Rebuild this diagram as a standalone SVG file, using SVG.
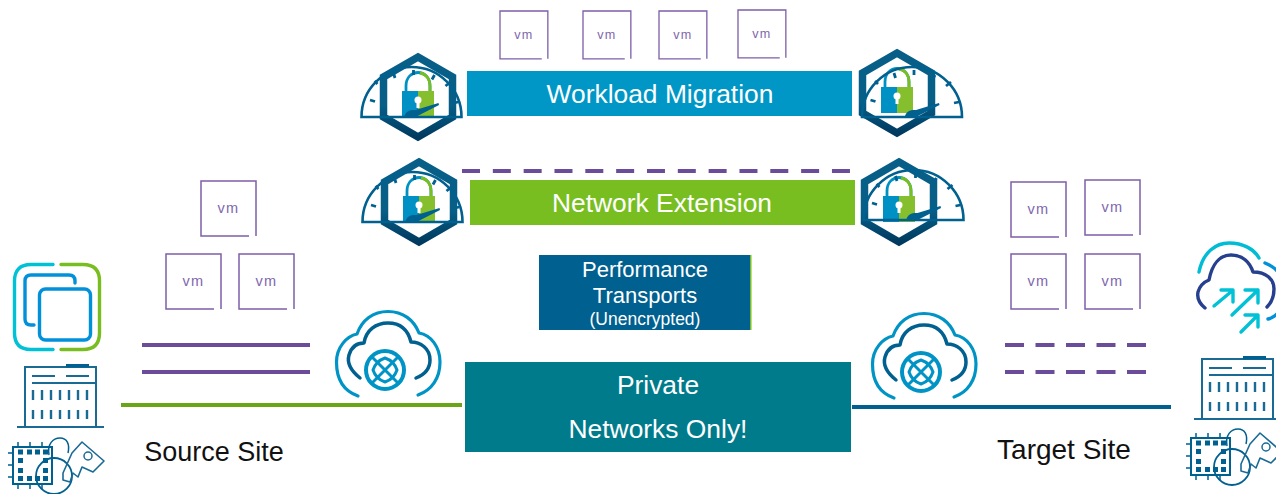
<svg xmlns="http://www.w3.org/2000/svg" width="1276" height="494" viewBox="0 0 1276 494">
<style>
text{font-family:"Liberation Sans",Arial,sans-serif}
.w{fill:#fff;text-anchor:middle}
.site{fill:#111;font-size:27px;text-anchor:middle}
.vmb{fill:none;stroke:#7d5fa8;stroke-width:1.5}
.vmt{fill:#8067ad;font-size:14.500px;text-anchor:middle;letter-spacing:1.400px}
.pl{stroke:#6b4c9a;stroke-width:4;fill:none}
.bl{fill:none;stroke:#1a6a96;stroke-width:2}
.tk{fill:none;stroke:#1a6a96;stroke-width:2.400}
.g{fill:none;stroke:#00608f;stroke-width:2.600}
.ic{fill:none;stroke-linecap:round;stroke-linejoin:round}
</style>
<defs>
<linearGradient id="hx" x1="0" y1="0" x2="0" y2="1"><stop offset="0" stop-color="#075f88"/><stop offset=".6" stop-color="#075f88"/><stop offset="1" stop-color="#003a60"/></linearGradient>
<g id="vm"><path class="vmb" d="M48,55H0V0H55V55"/><text class="vmt" x="27.500" y="32">vm</text></g>
<g id="lockhex">
<path d="M0,-40 L34.500,-20 V20 L0,40 L-34.500,20 V-20Z" fill="#fff" stroke="url(#hx)" stroke-width="7.500"/>
<path d="M-12,-6 V-11 C-12,-29 12,-29 12,-11 V-6" fill="none" stroke="#0091c4" stroke-width="2.800"/>
<path d="M2,-24 C8,-23 12,-18 12,-11 V-6" fill="none" stroke="#78be20" stroke-width="2.800"/>
<rect x="-16" y="-6" width="16" height="26" fill="#0091c4"/>
<rect x="0" y="-6" width="16" height="26" fill="#86bf2e"/>
<circle cx="0" cy="3" r="3.500" fill="#fff"/><path d="M-1.500,4H1.500V11H-1.500Z" fill="#fff"/>
</g>
<g id="gauge">
<path class="g" d="M-50,0 A50,50 0 0 1 50,0 Z"/>
<g stroke="#00608f" stroke-width="2.800">
<path d="M-41.500,-17 L-36.500,-15.500M-37,-36 L-34,-33M-18,-44 L-16.500,-39M2,-47 L2,-42M23,-42 L20.500,-37.500M39,-35 L34,-31M47,-15 L42,-14"/>
</g>
<path d="M-7,-1 C-5,-7 0,-7 4,-7 L27,-14 L27.500,-12 L6,-1 Z" fill="#00608f"/>
</g>
<g id="cloudnet" class="ic">
<path d="M23,86 C6,80 1.500,65 1.500,52 C1.500,37 12,26 22,24 C27,10 38,1.500 53,1.500 C68,1.500 79,10 84,23 C96,25 105,37 105,52 C105,68 97,80 83,85" stroke="#0094c6" stroke-width="3.200"/>
<path d="M25,68 C15,60 12,52 14,45 C17,35 23,33 29,33 C31,20 41,13 53,13 C65,13 73,20 76,32 C85,32 95,38 95,50 C95,58 91,64 81,68" stroke="#00608f" stroke-width="3.500"/>
<circle cx="50" cy="60" r="19" fill="#fff" stroke="#0094c6" stroke-width="4"/>
<path d="M37,47 L63,73M63,47 L37,73" stroke="#0094c6" stroke-width="3"/>
<path d="M50,48 Q59,51 62,60 Q59,69 50,72 Q41,69 38,60 Q41,51 50,48Z" stroke="#0094c6" stroke-width="3"/>
</g>
<g id="bldg">
<path class="bl" d="M1,62V2H72V62M-7,62H80"/>
<rect x="42" y="-1" width="23" height="3.500" fill="#00608f"/>
<path class="bl" d="M8,11H31M42,11H65M8,18H72"/>
<path class="tk" d="M9,25V35M18,25V35M27,25V35M36,25V35M45,25V35M54,25V35M63,25V35M9,45V54M18,45V54M27,45V54M36,45V54M45,45V54M54,45V54M63,45V54"/>
</g>
<g id="chipkey">
<rect x="0" y="0" width="39" height="37" fill="none" stroke="#00608f" stroke-width="2"/>
<path d="M5,0V-5M17,0V-5M29,0V-5M5,37V42M17,37V42M29,37V42M0,6H-5M0,18H-5M0,30H-5" stroke="#00608f" stroke-width="1.500"/>
<path d="M5,2.500h5v5h-5zM14,2.500h5v5h-5zM22,2.500h5v5h-5zM30,2.500h5v5h-5zM5,11h5v5h-5zM30,11h5v5h-5zM5,21h5v5h-5zM30,21h5v5h-5zM5,29h5v5h-5zM14,29h5v5h-5zM22,29h5v5h-5zM30,29h5v5h-5z" fill="#00608f"/>
<path d="M36,8 C34,-3 40,-9 47,-9 C54,-9 57,-3 55,6" fill="none" stroke="#00608f" stroke-width="1.500"/>
<circle cx="41" cy="29" r="18" fill="none" stroke="#00608f" stroke-width="1.800"/>
<path d="M50,26 L50,33 L57,35 L60,26 L65,30 L69,20 L80,25 L91,14 L69,-5 L59,6Z" fill="none" stroke="#1a6a96" stroke-width="1.600" stroke-linejoin="round"/>
<circle cx="75" cy="9" r="4" fill="none" stroke="#1a6a96" stroke-width="1.500"/>
</g>
</defs>
<rect width="1276" height="494" fill="#fff"/>

<g id="connectors">
<path class="pl" d="M462,171H851" stroke-dasharray="18 12.830"/>
<path class="pl" d="M142,345H310M142,372H310"/>
<path class="pl" d="M1005,345H1146M1005,372H1146" stroke-dasharray="19 11.500"/>
<path d="M121,405H462" stroke="#69a516" stroke-width="4"/>
<path d="M852,407H1171" stroke="#00608f" stroke-width="4"/>
</g>

<g id="vm-top-1"><use href="#vm" transform="translate(500,11) scale(.87)"/></g>
<g id="vm-top-2"><use href="#vm" transform="translate(583,11) scale(.87)"/></g>
<g id="vm-top-3"><use href="#vm" transform="translate(659,11) scale(.87)"/></g>
<g id="vm-top-4"><use href="#vm" transform="translate(738,10) scale(.87)"/></g>
<g id="vm-src-1"><use href="#vm" x="201" y="181"/></g>
<g id="vm-src-2"><use href="#vm" x="166" y="254"/></g>
<g id="vm-src-3"><use href="#vm" x="239" y="254"/></g>
<g id="vm-tgt-1"><use href="#vm" x="1011" y="182"/></g>
<g id="vm-tgt-2"><use href="#vm" x="1085" y="180"/></g>
<g id="vm-tgt-3"><use href="#vm" x="1011" y="254"/></g>
<g id="vm-tgt-4"><use href="#vm" x="1085" y="254"/></g>

<g id="hix-wm-src"><use href="#lockhex" x="418" y="97"/><use href="#gauge" x="411.500" y="117"/></g>
<g id="hix-wm-tgt"><use href="#lockhex" x="897" y="93"/><use href="#gauge" x="912" y="117"/></g>
<g id="hix-ne-src"><use href="#lockhex" x="419" y="202"/><use href="#gauge" x="412.500" y="222"/></g>
<g id="hix-ne-tgt"><use href="#lockhex" x="899" y="202"/><use href="#gauge" x="913.500" y="220"/></g>

<g id="workload-migration"><rect x="467" y="71" width="385" height="45" fill="#0097c7"/><text class="w" x="660" y="103" font-size="26.400">Workload Migration</text></g>
<g id="network-extension"><rect x="470" y="180" width="385" height="45" fill="#78be20"/><text class="w" x="662" y="212" font-size="26.400">Network Extension</text></g>
<g id="performance-transports"><rect x="539" y="255" width="212" height="75" fill="#00608f"/><rect x="750" y="255" width="1.500" height="75" fill="#78be20"/>
<text class="w" x="645" y="277" font-size="22">Performance</text><text class="w" x="645" y="303" font-size="22">Transports</text><text class="w" x="645" y="325" font-size="17.500">(Unencrypted)</text></g>
<g id="private-networks"><rect x="465" y="362" width="386" height="90" fill="#007b8c"/><text class="w" x="658" y="394" font-size="26.400">Private</text><text class="w" x="658" y="438" font-size="26.400">Networks Only!</text></g>

<g id="cloud-src"><use href="#cloudnet" x="335" y="310"/></g>
<g id="cloud-tgt"><use href="#cloudnet" x="871" y="312"/></g>

<g id="vsphere-icon" class="ic" stroke-width="3.400">
<path d="M53,264.500H31C20,264.500 14.500,270 14.500,281V333C14.500,344 20,349.500 31,349.500H53" stroke="#00c1d5"/>
<path d="M61,264.500H83C94,264.500 99.500,270 99.500,281V333C99.500,344 94,349.500 83,349.500H61" stroke="#78be20"/>
<path d="M75,283V281C75,277 73,275 69,275H31C27,275 25,277 25,281V319C25,323 27,325 31,325H34" stroke="#0091da"/>
<rect x="39.500" y="289" width="51" height="51" rx="6" stroke="#0091da"/>
</g>
<g id="building-src"><use href="#bldg" x="24" y="365"/></g>
<g id="chip-src"><use href="#chipkey" x="13" y="447"/></g>

<g id="hcx-cloud-icon" class="ic" stroke-width="3.400">
<path d="M1199,272C1203,252 1216,243 1229,243C1243,243 1254,249 1259,258" stroke="#00bcd4"/>
<path d="M1205,308C1199,303 1197,297 1198,292C1200,285 1204,282 1209,280C1212,264 1220,255 1231,255C1243,255 1250,263 1253,272C1266,272 1274,279 1274,289C1274,298 1271,303 1267,307" stroke="#263f8f"/>
<path d="M1265,263C1270,265 1275,268 1278,272M1268,319C1272,318 1275,316 1277,314" stroke="#0091da"/>
<path d="M1214,306L1232,291M1221,290H1233V302M1232,315L1258,290M1245,290H1258V303M1241,332L1258,315M1245,315H1258V327" stroke="#00c1d5"/>
</g>
<g id="building-tgt"><use href="#bldg" x="1201" y="357"/></g>
<g id="chip-tgt"><use href="#chipkey" x="1191" y="438"/></g>

<g id="source-site"><text class="site" x="214" y="461">Source Site</text></g>
<g id="target-site"><text class="site" x="1064" y="459" style="font-size:28px">Target Site</text></g>
</svg>
